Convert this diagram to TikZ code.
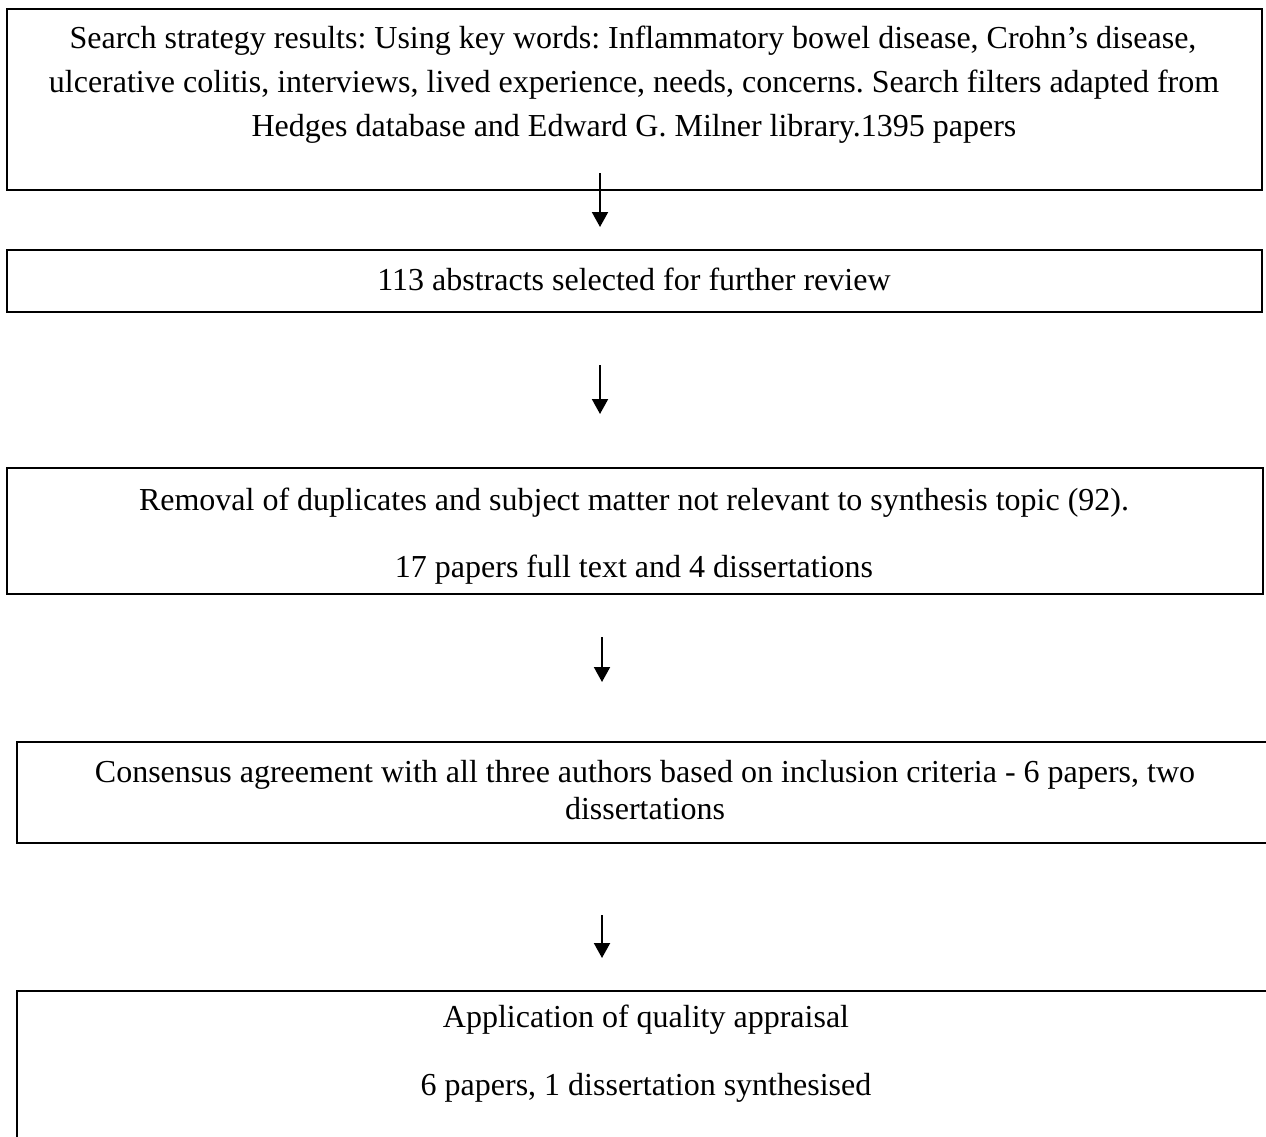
\documentclass[tikz,border=0pt]{standalone}
\usepackage{fontspec}
\setmainfont{Liberation Serif}
\frenchspacing
\usetikzlibrary{arrows.meta,fit}
\begin{document}
\begin{tikzpicture}[x=0.5pt,y=-0.5pt,
  stagebox/.style={draw=black,line width=1.2pt,inner sep=0pt,rectangle},
  line/.style={anchor=base,inner sep=0pt,font=\fontsize{16}{19}\selectfont},
  flow/.style={line width=1pt,-{Triangle[length=7.5pt,width=8pt]}}]
\useasboundingbox (0,0) rectangle (1266,1137);
\clip (0,0) rectangle (1266,1137);
\fill[white] (0,0) rectangle (1266,1137);

% stage boxes
\node[stagebox,fit={(7,9) (1262,190)}] (b1) {};
\node[stagebox,fit={(7,250) (1262,312)}] (b2) {};
\node[stagebox,fit={(7,468) (1263,594)}] (b3) {};
\node[stagebox,fit={(17,742) (1300,843)}] (b4) {};
\node[stagebox,fit={(17,991) (1300,1180)}] (b5) {};

% box texts
\node[line] (t1a) at (633,48) {Search strategy results: Using key words: Inflammatory bowel disease, Crohn’s disease,};
\node[line] (t1b) at (634,92) {ulcerative colitis, interviews, lived experience, needs, concerns. Search filters adapted from};
\node[line] (t1c) at (634,136) {Hedges database and Edward G. Milner library.1395 papers};
\node[line] (t2a) at (634,290) {113 abstracts selected for further review};
\node[line] (t3a) at (634,510) {Removal of duplicates and subject matter not relevant to synthesis topic (92).};
\node[line] (t3b) at (634,577) {17 papers full text and 4 dissertations};
\node[line] (t4a) at (645,782) {Consensus agreement with all three authors based on inclusion criteria - 6 papers, two};
\node[line] (t4b) at (645,819) {dissertations};
\node[line] (t5a) at (646,1027) {Application of quality appraisal};
\node[line] (t5b) at (646,1095) {6 papers, 1 dissertation synthesised};

% connectors
\coordinate (a1s) at (600,173); \coordinate (a1e) at (600,227);
\coordinate (a2s) at (600,365); \coordinate (a2e) at (600,414);
\coordinate (a3s) at (602,637); \coordinate (a3e) at (602,682);
\coordinate (a4s) at (602,915); \coordinate (a4e) at (602,958);
\draw[flow] (a1s) -- (a1e);
\draw[flow] (a2s) -- (a2e);
\draw[flow] (a3s) -- (a3e);
\draw[flow] (a4s) -- (a4e);
\end{tikzpicture}
\end{document}
